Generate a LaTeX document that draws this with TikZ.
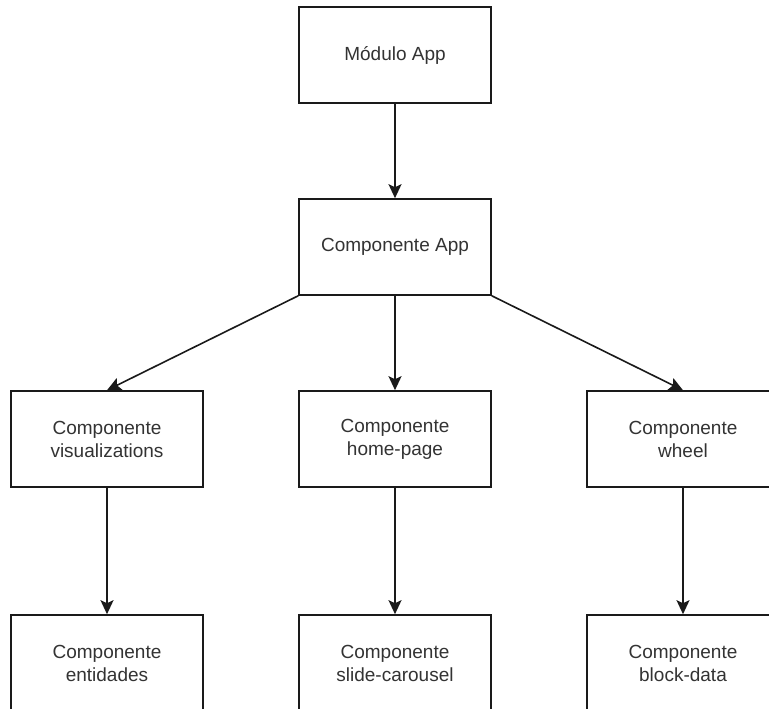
\documentclass[tikz,border=0pt]{standalone}
\usepackage{fontspec}
\setmainfont{Liberation Sans}
\usepackage{xcolor}
\usetikzlibrary{arrows.meta}
\definecolor{boxline}{HTML}{1A1A1A}
\definecolor{boxtext}{HTML}{333333}

\begin{document}
\begin{tikzpicture}[x=1pt,y=-1pt,
    box/.style={draw=boxline,line width=1.6pt,fill=white,minimum width=192pt,minimum height=96pt,
      inner sep=0pt,align=center,text=boxtext,font=\fontsize{19}{23}\selectfont},
    flow/.style={draw=boxline,line width=1.6pt,-{Stealth[length=14pt,width=13pt,inset=3pt]}}]
  \useasboundingbox (0,0) rectangle (769,709);
  \clip (0,0) rectangle (769,709);
  % module and root component
  \node[box] (modulo) at (395,55) {Módulo App};
  \node[box] (app) at (395,247) {Componente App};
  \draw[flow] (modulo) -- (app);
  % one column per child component, each with its own child below
  \foreach \cx/\mid/\low/\midlab/\lowlab in {107/vis/ent/visualizations/entidades,
      395/home/slide/home-page/slide-carousel, 683/wheel/block/wheel/block-data}{
    \node[box] (\mid) at (\cx,439) {Componente\\\midlab};
    \node[box] (\low) at (\cx,663) {Componente\\\lowlab};
    \draw[flow] (\mid) -- (\low);
  }
  \draw[flow] (app.south west) -- (vis.north);
  \draw[flow] (app.south) -- (home.north);
  \draw[flow] (app.south east) -- (wheel.north);
\end{tikzpicture}
\end{document}
